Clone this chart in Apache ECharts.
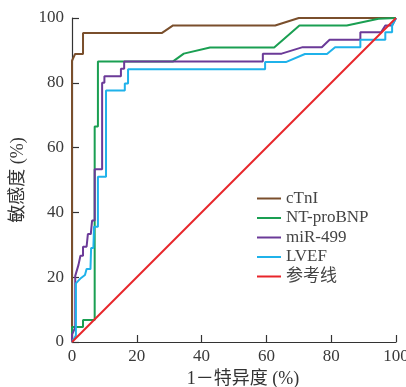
<!DOCTYPE html>
<html>
<head>
<meta charset="utf-8">
<script src="https://cdn.jsdelivr.net/npm/echarts@6/dist/echarts.min.js"></script>
<style>
  html, body { margin: 0; padding: 0; background: #fff; }
  #chart { width: 406px; height: 387px; }
</style>
</head>
<body>
<div id="chart"></div>
<script>
  // ROC curves, [1-specificity %, sensitivity %]
  var seriesNames = ['cTnI', 'NT-proBNP', 'miR-499', 'LVEF', '参考线'];
  var seriesColors = ['#7a4f2c', '#1a9f52', '#6b3a98', '#1fb2ea', '#e8252a'];

  var cTnI = [[0, 0], [0, 86.8], [0.95, 88.9], [3.4, 88.9], [3.4, 95.4], [27.8, 95.4], [31.2, 97.7],
    [62.7, 97.7], [70, 100], [100, 100]];
  var ntProBNP = [[0, 0], [0, 4.6], [3.4, 4.6], [3.4, 6.8], [7, 6.8], [7, 66.5], [8, 66.5], [8, 86.6],
    [31.2, 86.6], [34.5, 89], [42.6, 90.9], [62.4, 90.9], [70.2, 97.7], [84.8, 97.7], [94.6, 99.8], [100, 100]];
  var miR499 = [[0, 0], [0, 2.3], [1, 4.5], [1, 20.4], [2, 23.8], [2.6, 26.6], [3.4, 26.6], [3.4, 29.4],
    [4.5, 29.4], [4.9, 33.3], [5.8, 33.3], [6.2, 37.5], [7, 37.5], [7, 53.3], [9.3, 53.3], [9.3, 80],
    [10, 80], [10, 82], [15.1, 82], [15.1, 84.3], [16.1, 84.3], [16.1, 86.6], [58.9, 86.6], [58.9, 89],
    [64.7, 89], [71.2, 91], [77.1, 91], [79.5, 93.3], [89, 93.3], [89, 95.6], [95.4, 95.6], [96.7, 97.7],
    [98.8, 97.7], [100, 100]];
  var lvef = [[0, 0], [1.2, 2], [1.2, 18.1], [2.7, 19.7], [4, 20.7], [4.5, 22.5], [5.7, 22.5], [5.9, 29],
    [6.6, 29], [6.8, 35.6], [8, 35.6], [8, 51], [10.5, 51], [10.5, 77.6], [16.3, 77.6], [16.3, 79.8],
    [17.3, 79.8], [17.3, 84.2], [59.6, 84.2], [59.6, 86.4], [66, 86.4], [71.9, 88.9], [78.7, 88.9],
    [81.2, 91], [89, 91], [89, 93.3], [96.7, 93.3], [96.7, 95.6], [98.8, 95.6], [98.8, 97.7], [100, 100]];
  var reference = [[0, 0], [100, 100]];

  var axisTicks = [0, 20, 40, 60, 80, 100];

  var font = "'Liberation Serif', 'Noto Sans CJK SC', serif";
  var allData = [cTnI, ntProBNP, miR499, lvef, reference];

  var chart = echarts.init(document.getElementById('chart'));

  function makeAxis(o) {
    var a = {
      type: 'value',
      min: axisTicks[0],
      max: axisTicks[axisTicks.length - 1],
      interval: 20,
      nameLocation: 'middle',
      axisLine: { lineStyle: { color: '#333', width: 1.2 } },
      axisTick: { inside: true, length: 7, lineStyle: { color: '#333', width: 1.2 } },
      splitLine: { show: false }
    };
    for (var k in o) a[k] = o[k];
    return a;
  }

  var option = {
    animation: false,
    backgroundColor: '#fff',
    grid: { left: 72, right: 10, top: 18, bottom: 45, containLabel: false, outerBoundsMode: 'none' },
    legend: {
      orient: 'vertical',
      left: 252,
      top: 185,
      icon: 'rect',
      itemWidth: 24,
      itemHeight: 2,
      itemGap: 2.5,
      textStyle: { fontFamily: font, fontSize: 17, color: '#444', lineHeight: 17 },
      data: seriesNames
    },
    xAxis: makeAxis({
      name: '1－特异度 (%)',
      nameGap: 27,
      nameTextStyle: { fontFamily: font, fontSize: 18, color: '#333', padding: [0, 0, 0, 18] },
      axisLabel: { fontFamily: font, fontSize: 17, color: '#3a3a3a', margin: 6 }
    }),
    yAxis: makeAxis({
      name: '敏感度 (%)',
      nameGap: 31,
      nameTextStyle: { fontFamily: font, fontSize: 18, color: '#333' },
      axisLabel: { fontFamily: font, fontSize: 17, color: '#3a3a3a', margin: 8 }
    }),
    series: seriesNames.map(function (name, i) {
      return {
        name: name,
        type: 'line',
        data: allData[i],
        symbol: 'none',
        color: seriesColors[i],
        lineStyle: { color: seriesColors[i], width: 2 },
        z: i === 4 ? 5 : 2 + i * 0.1
      };
    })
  };

  chart.setOption(option);
</script>
</body>
</html>
